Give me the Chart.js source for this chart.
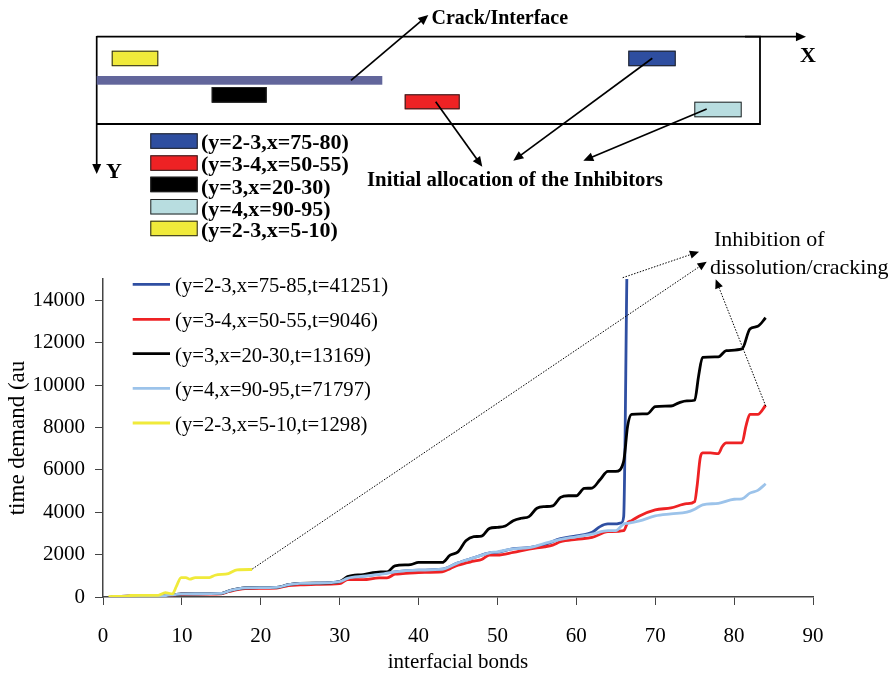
<!DOCTYPE html>
<html>
<head>
<meta charset="utf-8">
<title>Inhibitor allocation</title>
<script src="https://cdn.jsdelivr.net/npm/chart.js@4/dist/chart.umd.min.js"></script>
<style>
    html, body { margin: 0; padding: 0; background: #ffffff; }
    canvas { display: block; }
</style>
</head>
<body>
<canvas id="chartjs-0" width="891" height="675"></canvas>
<script>
"use strict";

/* values */
var blueX = [1, 5, 8, 9, 10, 15, 16, 18, 22, 23.5, 25, 27, 30, 31, 33, 35, 37, 40, 43, 45, 47, 49, 50, 52, 54, 56, 58, 60, 62, 63, 64, 65, 65.7, 66, 66.4];
var blueY = [20, 50, 70, 110, 150, 170, 290, 430, 450, 580, 640, 650, 720, 880, 980, 1075, 1185, 1265, 1310, 1610, 1850, 2085, 2110, 2280, 2330, 2480, 2750, 2880, 3050, 3320, 3445, 3445, 3500, 3790, 15000];

var redX = [1, 5, 8, 9, 10, 15, 16, 18, 22, 23.5, 25, 27, 30, 31, 33, 35, 36, 37, 38, 40, 43, 44, 45, 47, 48, 49, 50, 52, 54, 56, 57, 58, 60, 62, 64, 66, 66.5, 67, 68, 70, 72, 74, 75, 75.3, 75.7, 76, 77, 78, 78.5, 79, 81, 81.5, 82, 83, 84];
var redY = [20, 50, 70, 100, 130, 150, 260, 400, 420, 540, 570, 600, 630, 820, 820, 900, 900, 1075, 1100, 1155, 1185, 1340, 1500, 1690, 1770, 1975, 1975, 2100, 2260, 2370, 2450, 2610, 2720, 2810, 3080, 3130, 3510, 3600, 3825, 4110, 4200, 4400, 4500, 5210, 6560, 6800, 6800, 6760, 7100, 7270, 7270, 8060, 8610, 8610, 9046];

var blackX = [1, 5, 8, 9, 10, 15, 16, 18, 22, 23.5, 25, 27, 30, 31, 33, 35.2, 36, 37, 39, 40, 43, 44, 45, 46, 47, 48, 49, 50, 51, 52, 53, 54, 55, 56, 57, 58, 59, 60, 61, 62, 63, 64, 65, 66, 66.5, 67, 69, 70, 72, 73, 74, 75, 75.5, 76, 78, 79, 81, 82, 83, 84];
var blackY = [20, 50, 70, 110, 150, 170, 290, 430, 450, 580, 640, 650, 730, 960, 1060, 1185, 1185, 1470, 1530, 1630, 1630, 1975, 2130, 2650, 2845, 2875, 3240, 3285, 3350, 3600, 3715, 3790, 4190, 4265, 4300, 4700, 4775, 4775, 5120, 5140, 5530, 5925, 5925, 6400, 8060, 8610, 8640, 8975, 9010, 9160, 9250, 9280, 10430, 11300, 11330, 11620, 11700, 12640, 12770, 13169];

var lightX = [1, 5, 8, 9, 10, 15, 16, 18, 22, 23.5, 25, 27, 30, 31, 33, 35.2, 37, 40, 43, 45, 47, 49, 50, 52, 54, 56, 58, 60, 62, 64, 65, 66, 66.5, 68, 70, 72, 74, 75, 76, 78, 80, 81, 82, 83, 84];
var lightY = [20, 50, 70, 110, 150, 170, 290, 430, 450, 580, 640, 650, 720, 880, 980, 1075, 1185, 1265, 1310, 1610, 1850, 2085, 2130, 2275, 2325, 2530, 2720, 2840, 2970, 3130, 3130, 3445, 3475, 3590, 3825, 3920, 4000, 4140, 4350, 4420, 4610, 4630, 4900, 5030, 5340];

var yellowX = [0.7, 3, 3.5, 7, 7.9, 8.8, 9.3, 9.9, 10.5, 11, 11.7, 13.5, 14.2, 15.9, 17, 18.9];
var yellowY = [20, 40, 70, 80, 205, 150, 500, 917, 917, 840, 917, 917, 1027, 1107, 1280, 1298];

var yTickValues = [0, 2000, 4000, 6000, 8000, 10000, 12000, 14000];

var seriesLabels = ["(y=2-3,x=75-85,t=41251)", "(y=3-4,x=50-55,t=9046)", "(y=3,x=20-30,t=13169)", "(y=4,x=90-95,t=71797)", "(y=2-3,x=5-10,t=1298)"];
var seriesColors = ["#2f4fa2", "#ee2224", "#000000", "#9cc3ea", "#f0ea3a"];

var keyLabels = ["(y=2-3,x=75-80)", "(y=3-4,x=50-55)", "(y=3,x=20-30)", "(y=4,x=90-95)", "(y=2-3,x=5-10)"];
var keyColors = ["#2e4ea0", "#ee2224", "#000000", "#b8dde0", "#f0ea3a"];

function toPoints(xs, ys) {
    var pts = [];
    for (var i = 0; i < xs.length; i++) {
        pts[i] = { x: xs[i], y: ys[i] };
    }
    return pts;
}

function makeDataset(i, xs, ys) {
    return {
        label: seriesLabels[i],
        data: toPoints(xs, ys),
        borderColor: seriesColors[i],
        backgroundColor: seriesColors[i],
        borderWidth: 2.8,
        pointRadius: 0,
        fill: false,
        order: -i, // later series on top, chart.js draws the other way round by default
        cubicInterpolationMode: "monotone"
    };
}

var SERIF = '"Liberation Serif", serif';

function drawArrow(ctx, x1, y1, x2, y2, dotted) {
    var a = Math.atan2(y2 - y1, x2 - x1);
    var len = dotted ? 10 : 11;
    ctx.save();
    ctx.strokeStyle = "#000";
    ctx.fillStyle = "#000";
    ctx.lineWidth = dotted ? 1 : 1.7;
    if (dotted) ctx.setLineDash([1.5, 1.5]);
    ctx.beginPath();
    ctx.moveTo(x1, y1);
    ctx.lineTo(x2 - Math.cos(a) * len * 0.7, y2 - Math.sin(a) * len * 0.7);
    ctx.stroke();
    ctx.setLineDash([]);
    ctx.beginPath();
    ctx.moveTo(x2, y2);
    ctx.lineTo(x2 - len * Math.cos(a - 0.42), y2 - len * Math.sin(a - 0.42));
    ctx.lineTo(x2 - len * Math.cos(a + 0.42), y2 - len * Math.sin(a + 0.42));
    ctx.closePath();
    ctx.fill();
    ctx.restore();
}

function drawBox(ctx, x, y, w, h, color) {
    ctx.fillStyle = color;
    ctx.fillRect(x, y, w, h);
    ctx.strokeStyle = "#222";
    ctx.lineWidth = 1;
    ctx.strokeRect(x + 0.5, y + 0.5, w - 1, h - 1);
}

function drawText(ctx, text, x, y, font) {
    ctx.font = font;
    ctx.fillStyle = "#000";
    ctx.textAlign = "left";
    ctx.textBaseline = "alphabetic";
    ctx.fillText(text, x, y);
}

/* the specimen sketch above the plot, and the callouts */
var sketchPlugin = {
    id: "sketch",
    afterDraw: function (chart) {
        var ctx = chart.ctx;
        var i;
        ctx.save();

        // specimen outline
        ctx.strokeStyle = "#000";
        ctx.lineWidth = 1.8;
        ctx.beginPath();
        ctx.moveTo(96.7, 36.7);
        ctx.lineTo(760, 36.7);
        ctx.lineTo(760, 124);
        ctx.lineTo(96.7, 124);
        ctx.stroke();
        drawArrow(ctx, 96.7, 36, 96.7, 174, false);
        drawArrow(ctx, 745, 36.7, 806, 36.7, false);

        // crack and inhibitors
        ctx.fillStyle = "#62669b";
        ctx.fillRect(96.7, 76, 285.6, 8.7);
        drawBox(ctx, 111.7, 50.7, 46.6, 15.5, keyColors[4]);
        drawBox(ctx, 211.7, 87, 55, 15.7, keyColors[2]);
        drawBox(ctx, 404.7, 94.3, 55, 15, keyColors[1]);
        drawBox(ctx, 628.3, 50.7, 47.4, 15.5, keyColors[0]);
        drawBox(ctx, 694.3, 101.7, 47.4, 15.6, keyColors[3]);

        // key under the sketch
        var keyTop = [133.3, 155.3, 176.7, 199, 220.7];
        var keyBase = [149, 171, 194, 215.5, 237];
        for (i = 0; i < keyLabels.length; i++) {
            drawBox(ctx, 150.3, keyTop[i], 47.4, 15.5, keyColors[i]);
            drawText(ctx, keyLabels[i], 201, keyBase[i], "bold 22px " + SERIF);
        }

        // solid arrows
        drawArrow(ctx, 351, 80.3, 428.3, 15, false);
        drawArrow(ctx, 435.7, 101.7, 482.3, 166.7, false);
        drawArrow(ctx, 652.3, 58.3, 513.3, 160.7, false);
        drawArrow(ctx, 706.7, 109, 583.3, 160.7, false);

        // dotted callouts
        drawArrow(ctx, 622.7, 277.7, 699, 251.7, true);
        drawArrow(ctx, 252.3, 569, 706.7, 261.7, true);
        drawArrow(ctx, 765.7, 406, 715.7, 279.3, true);

        drawText(ctx, "Crack/Interface", 431.5, 24, "bold 20px " + SERIF);
        drawText(ctx, "Initial allocation of the Inhibitors", 367, 186, "bold 20.8px " + SERIF);
        drawText(ctx, "X", 800, 61.5, "bold 22px " + SERIF);
        drawText(ctx, "Y", 106, 178, "bold 22px " + SERIF);
        drawText(ctx, "Inhibition of", 714, 246, "22px " + SERIF);
        drawText(ctx, "dissolution/cracking", 710, 274, "22px " + SERIF);

        // legend inside the plot, taken from the datasets
        var legendMid = [284.3, 319.3, 353.7, 388.3, 423];
        chart.data.datasets.forEach(function (ds, n) {
            ctx.strokeStyle = ds.borderColor;
            ctx.lineWidth = 2.8;
            ctx.beginPath();
            ctx.moveTo(132.7, legendMid[n]);
            ctx.lineTo(170, legendMid[n]);
            ctx.stroke();
            drawText(ctx, ds.label, 175, legendMid[n] + 8, "20.7px " + SERIF);
        });

        ctx.restore();
    }
};

var ctx = document.getElementById("chartjs-0");

var myChart = new Chart(ctx, {
    type: "line",
    data: {
        datasets: [
            makeDataset(0, blueX, blueY),
            makeDataset(1, redX, redY),
            makeDataset(2, blackX, blackY),
            makeDataset(3, lightX, lightY),
            makeDataset(4, yellowX, yellowY)
        ]
    },
    options: {
        responsive: false,
        animation: false,
        layout: { padding: { top: 279, right: 78, left: 0, bottom: 0 } },
        plugins: {
            legend: { display: false },
            tooltip: { enabled: false },
            title: { display: false }
        },
        scales: {
            x: {
                type: "linear",
                min: 0,
                max: 90,
                afterFit: function (scale) { scale.height = 78; },
                border: { color: "#444", width: 1.5 },
                grid: { drawOnChartArea: false, drawTicks: true, tickLength: 8, color: "#444" },
                ticks: {
                    stepSize: 10,
                    maxRotation: 0,
                    padding: 19,
                    color: "#000",
                    font: { family: SERIF, size: 21 }
                },
                title: {
                    display: true,
                    text: "interfacial bonds",
                    color: "#000",
                    padding: { top: 0, bottom: 0 },
                    font: { family: SERIF, size: 21 }
                }
            },
            y: {
                min: 0,
                max: 15000,
                afterFit: function (scale) { scale.width = 103; },
                afterBuildTicks: function (scale) {
                    scale.ticks = yTickValues.map(function (v) { return { value: v }; });
                },
                border: { color: "#444", width: 1.5 },
                grid: { drawOnChartArea: false, drawTicks: true, tickLength: 8, color: "#444" },
                ticks: {
                    padding: 10,
                    color: "#000",
                    font: { family: SERIF, size: 21 },
                    callback: function (v) { return String(v); }
                },
                title: {
                    display: true,
                    text: "time demand (au",
                    color: "#000",
                    padding: { top: 4, bottom: 0 },
                    font: { family: SERIF, size: 23 }
                }
            }
        }
    },
    plugins: [sketchPlugin]
});
</script>
</body>
</html>
